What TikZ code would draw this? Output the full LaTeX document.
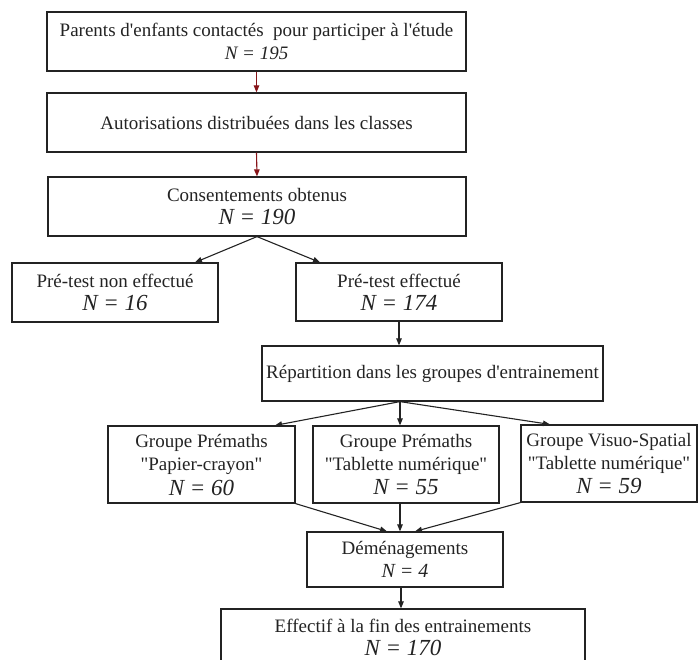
\documentclass[tikz,border=0pt]{standalone}
\usepackage{fontspec}
\setmainfont{Liberation Serif}
\usetikzlibrary{arrows.meta}
\definecolor{darkred}{RGB}{135,20,25}
\definecolor{ink}{RGB}{35,35,35}
\tikzset{
  box/.style={draw=ink, line width=1.2pt, rectangle, inner sep=0pt, align=center,
    text=ink, font=\fontsize{19}{23}\selectfont},
  link/.style={draw=ink, line width=1.1pt, -{Triangle[length=7pt,width=5.5pt]}},
  rlink/.style={draw=darkred, line width=1.1pt, -{Triangle[length=7pt,width=5.5pt]}},
}
\newcommand{\Nbig}[1]{{\fontsize{23}{23}\selectfont\itshape #1}}
\newcommand{\Nsmall}[1]{{\fontsize{19}{23}\selectfont\itshape #1}}
\newcommand{\qt}{\textquotedbl}
\begin{document}
\begin{tikzpicture}[x=1pt, y=-1pt]
\useasboundingbox (0,0) rectangle (698,659);
\begin{scope}
\clip (0,0) rectangle (698,659);
\node[box, minimum width=419pt, minimum height=59pt] (b1) at (256.5,41.5)
  {Parents d\textquotesingle enfants contactés\ \ pour participer à l\textquotesingle étude\\ \Nsmall{N = 195}};
\node[box, minimum width=419pt, minimum height=59pt] (b2) at (256.5,122.5)
  {Autorisations distribuées dans les classes};
\node[box, minimum width=418pt, minimum height=59pt] (b3) at (257,206.5)
  {Consentements obtenus\\ \Nbig{N = 190}};
\node[box, minimum width=206pt, minimum height=59pt] (b4) at (115,292.5)
  {Pré-test non effectué\\ \Nbig{N = 16}};
\node[box, minimum width=206pt, minimum height=58pt] (b5) at (399,292)
  {Pré-test effectué\\ \Nbig{N = 174}};
\node[box, minimum width=341pt, minimum height=55pt] (b6) at (432.5,373.5)
  {Répartition dans les groupes d\textquotesingle entrainement};
\node[box, minimum width=187pt, minimum height=77pt] (g1) at (201.5,464.5)
  {Groupe Prémaths\\ \qt Papier-crayon\qt\\[2pt] \Nbig{N = 60}};
\node[box, minimum width=186pt, minimum height=77pt] (g2) at (406,464.5)
  {Groupe Prémaths\\ \qt Tablette numérique\qt\\[1pt] \Nbig{N = 55}};
\node[box, minimum width=176pt, minimum height=77pt] (g3) at (609,463.5)
  {Groupe Visuo-Spatial\\ \qt Tablette numérique\qt\\[1pt] \Nbig{N = 59}};
\node[box, minimum width=196pt, minimum height=55pt] (d) at (405,559.5)
  {Déménagements\\ {\fontsize{20}{23}\selectfont\itshape N = 4}};
\node[box, minimum width=364pt, minimum height=56pt] (e) at (403,637)
  {Effectif à la fin des entrainements\\ \Nbig{N = 170}};

\draw[rlink] (b1.south) -- (b2.north);
\draw[rlink] (b2.south) -- (b3.north);
\draw[link] (b3.south) -- ([xshift=80pt]b4.north);
\draw[link] (b3.south) -- ([xshift=-79pt]b5.north);
\draw[link] (b5.south) -- (b5.south |- b6.north);
\draw[link] ([xshift=-32.5pt]b6.south) -- ([xshift=73.5pt]g1.north);
\draw[link] ([xshift=-32.5pt]b6.south) -- ([xshift=-6pt]g2.north);
\draw[link] ([xshift=-32.5pt]b6.south) -- ([xshift=-59pt]g3.north);
\draw[link] (g1.south east) -- ([xshift=-18pt]d.north);
\draw[link] ([xshift=-5pt]d.north |- g2.south) -- ([xshift=-5pt]d.north);
\draw[link] (g3.south west) -- ([xshift=10pt]d.north);
\draw[link] ([xshift=-4pt]d.south) -- ([xshift=-4pt]d.south |- e.north);
\end{scope}
\end{tikzpicture}
\end{document}
